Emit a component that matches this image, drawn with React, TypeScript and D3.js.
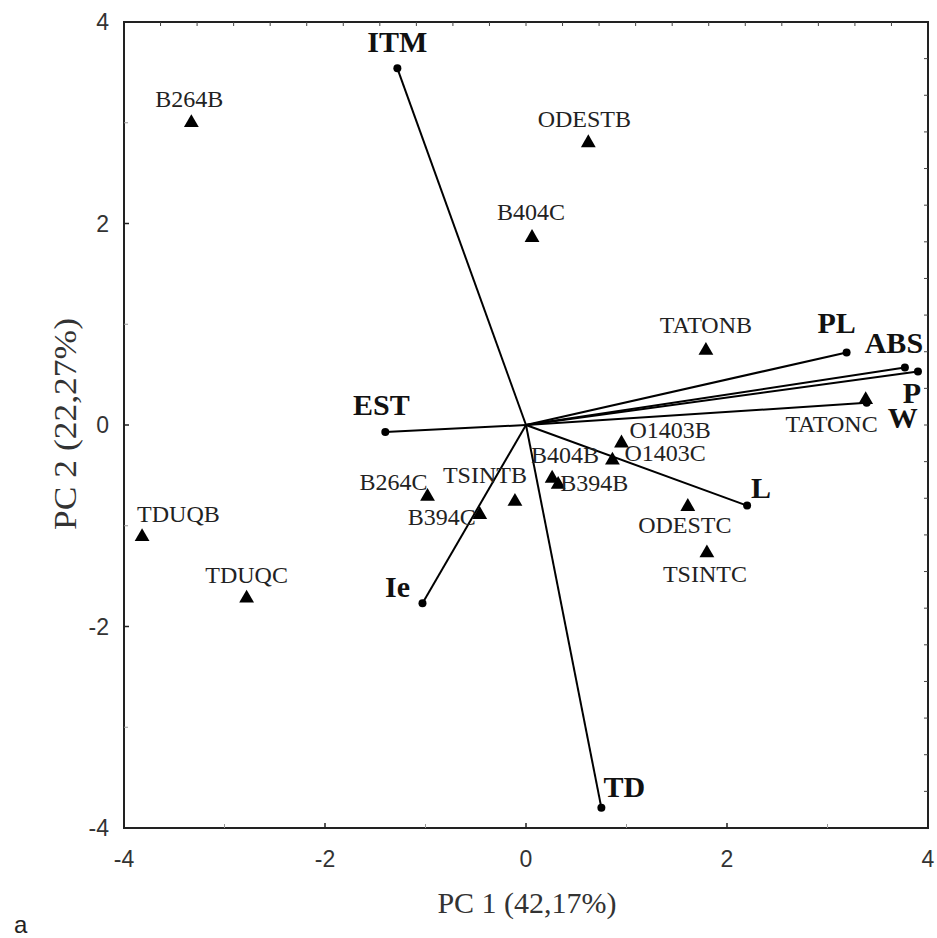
import React from "react";
import * as d3 from "d3";

// ---- data ----
const sampleNames = ["B264B","ODESTB","B404C","TATONB","TATONC","O1403B","O1403C","B404B","B394B","B264C","TSINTB","B394C","TDUQB","TDUQC","ODESTC","TSINTC"];
const samplePC1 = [-3.33, 0.62, 0.06, 1.79, 3.38, 0.95, 0.86, 0.26, 0.32, -0.98, -0.11, -0.46, -3.82, -2.78, 1.61, 1.80];
const samplePC2 = [3.00, 2.80, 1.86, 0.74, 0.25, -0.18, -0.35, -0.53, -0.59, -0.71, -0.76, -0.89, -1.11, -1.72, -0.81, -1.27];

const varNames = ["ITM","PL","ABS","P","W","L","EST","Ie","TD"];
const varPC1 = [-1.28, 3.19, 3.77, 3.90, 3.39, 2.20, -1.40, -1.03, 0.75];
const varPC2 = [3.54, 0.72, 0.57, 0.53, 0.22, -0.80, -0.07, -1.77, -3.80];

const xTicks = [-4, -2, 0, 2, 4];
const yTicks = [-4, -2, 0, 2, 4];
const minorTicks = [-3, -1, 1, 3];

const xTitle = "PC 1 (42,17%)";
const yTitle = "PC 2 (22,27%)";
const panelLabel = "a";

// ---- layout (label offsets in px: dx, dy, anchor) ----
const sampleLabelLayout: Record<string, [number, number, string]> = {
  B264B: [-2, -16, "middle"],
  ODESTB: [-4, -16, "middle"],
  B404C: [-1, -18, "middle"],
  TATONB: [0, -17, "middle"],
  TATONC: [12, 32, "end"],
  O1403B: [8, -5, "start"],
  O1403C: [12, 1, "start"],
  B404B: [13, -15, "middle"],
  B394B: [2, 7, "start"],
  B264C: [0, -7, "end"],
  TSINTB: [-30, -19, "middle"],
  B394C: [-4, 10, "end"],
  TDUQB: [-5, -15, "start"],
  TDUQC: [0, -15, "middle"],
  ODESTC: [-3, 26, "middle"],
  TSINTC: [-2, 29, "middle"],
};
const varLabelLayout: Record<string, [number, number, string]> = {
  ITM: [0, -16, "middle"],
  PL: [-10, -19, "middle"],
  ABS: [-11, -15, "middle"],
  P: [-6, 31, "middle"],
  W: [36, 25, "middle"],
  L: [14, -8, "middle"],
  EST: [-4, -17, "middle"],
  Ie: [-25, -6, "middle"],
  TD: [2, -11, "start"],
};

const W = 937, H = 938;
const left = 124, right = 928, top = 22, bottom = 828;

export default function App() {
  const x = d3.scaleLinear().domain([-4, 4]).range([left, right]);
  const y = d3.scaleLinear().domain([-4, 4]).range([bottom, top]);
  const tri = d3.symbol().type(d3.symbolTriangle).size(95)() as string;
  const frameTicks = d3.range(1, 22).map((k) => -4 + (k * 8) / 22);
  const serif = "'Liberation Serif', 'Times New Roman', serif";
  const sans = "'Liberation Sans', Arial, sans-serif";

  return (
    <svg width={W} height={H} style={{ position: "absolute", left: 0, top: 0, background: "#fff" }}>
      <rect x={0} y={0} width={W} height={H} fill="#fff" />
      {/* frame */}
      <rect x={left} y={top} width={right - left} height={bottom - top} fill="none" stroke="#222" strokeWidth={2} />
      {/* bottom ticks */}
      {xTicks.map((t) => (
        <line key={"bx" + t} x1={x(t)} x2={x(t)} y1={bottom} y2={bottom - 5} stroke="#222" strokeWidth={1.5} />
      ))}
      {minorTicks.map((t) => (
        <line key={"bmx" + t} x1={x(t)} x2={x(t)} y1={bottom} y2={bottom - 4} stroke="#999" strokeWidth={1} />
      ))}
      {yTicks.map((t) => (
        <line key={"ly" + t} x1={left} x2={left + 5} y1={y(t)} y2={y(t)} stroke="#222" strokeWidth={1.5} />
      ))}
      {minorTicks.map((t) => (
        <line key={"lmy" + t} x1={left} x2={left + 4} y1={y(t)} y2={y(t)} stroke="#999" strokeWidth={1} />
      ))}
      {frameTicks.map((t, i) => (
        <g key={"ft" + i}>
          <line x1={x(t)} x2={x(t)} y1={top} y2={top + 4} stroke="#444" strokeWidth={1} />
          <line x1={right} x2={right - 4} y1={y(t)} y2={y(t)} stroke="#444" strokeWidth={1} />
        </g>
      ))}
      {/* tick labels */}
      {xTicks.map((t) => (
        <text key={"xl" + t} x={x(t)} y={867} textAnchor="middle" fontFamily={sans} fontSize={23} fill="#333">
          {t}
        </text>
      ))}
      {yTicks.map((t) => (
        <text key={"yl" + t} x={left - 15} y={y(t) + 8} textAnchor="end" fontFamily={sans} fontSize={23} fill="#333">
          {t}
        </text>
      ))}
      {/* axis titles */}
      <text x={527} y={913} textAnchor="middle" fontFamily={serif} fontSize={30} fill="#333">
        {xTitle}
      </text>
      <text
        transform={`translate(76, 424) rotate(-90)`}
        textAnchor="middle"
        fontFamily={serif}
        fontSize={31}
        fill="#333"
        textLength={212}
        lengthAdjust="spacingAndGlyphs"
      >
        {yTitle}
      </text>
      <text x={14} y={933} fontFamily={sans} fontSize={24} fill="#222">
        {panelLabel}
      </text>
      {/* vectors */}
      {varNames.map((n, i) => (
        <g key={"v" + n}>
          <line x1={x(0)} y1={y(0)} x2={x(varPC1[i])} y2={y(varPC2[i])} stroke="#000" strokeWidth={2} />
          <circle cx={x(varPC1[i])} cy={y(varPC2[i])} r={4} fill="#000" />
        </g>
      ))}
      {/* samples */}
      {sampleNames.map((n, i) => (
        <path key={"s" + n} d={tri} transform={`translate(${x(samplePC1[i])},${y(samplePC2[i])})`} fill="#000" />
      ))}
      {sampleNames.map((n, i) => {
        const [dx, dy, anchor] = sampleLabelLayout[n];
        return (
          <text
            key={"sl" + n}
            x={x(samplePC1[i]) + dx}
            y={y(samplePC2[i]) + dy}
            textAnchor={anchor as any}
            fontFamily={serif}
            fontSize={24}
            fill="#222"
          >
            {n}
          </text>
        );
      })}
      {varNames.map((n, i) => {
        const [dx, dy, anchor] = varLabelLayout[n];
        return (
          <text
            key={"vl" + n}
            x={x(varPC1[i]) + dx}
            y={y(varPC2[i]) + dy}
            textAnchor={anchor as any}
            fontFamily={serif}
            fontWeight="bold"
            fontSize={30}
            fill="#111"
          >
            {n}
          </text>
        );
      })}
    </svg>
  );
}
